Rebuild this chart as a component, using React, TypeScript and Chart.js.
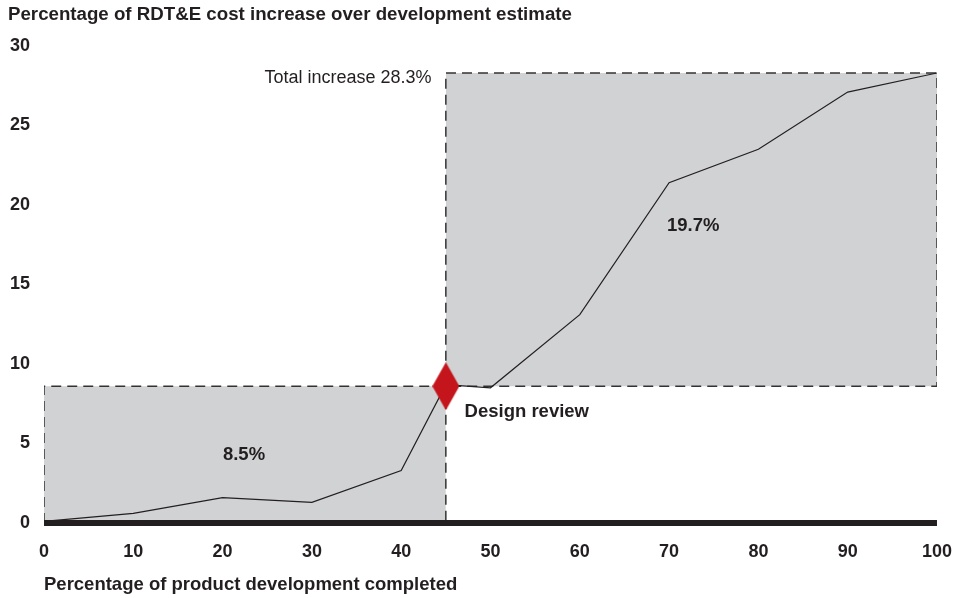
import React, { useEffect, useRef } from "react";
import { Chart, registerables } from "chart.js";

Chart.register(...registerables);

const progress = [0, 10, 20, 30, 40, 45, 50, 60, 70, 80, 90, 100];
const costIncrease = [0.1, 0.6, 1.6, 1.3, 3.3, 8.7, 8.5, 13.1, 21.4, 23.5, 27.1, 28.3];
const designReviewAt = 45;
const designReviewLevel = 8.6;
const totalIncrease = 28.3;
const xTicks = [0, 10, 20, 30, 40, 50, 60, 70, 80, 90, 100];
const yTicks = [0, 5, 10, 15, 20, 25, 30];

const TEXT = "#231f20";
const FONT = "'Liberation Sans', Arial, Helvetica, sans-serif";

function makeDiamond(): HTMLCanvasElement {
  const c = document.createElement("canvas");
  c.width = 27;
  c.height = 48;
  const g = c.getContext("2d")!;
  g.fillStyle = "#c4151c";
  g.beginPath();
  g.moveTo(13.5, 0);
  g.lineTo(27, 24);
  g.lineTo(13.5, 48);
  g.lineTo(0, 24);
  g.closePath();
  g.fill();
  return c;
}

const labelsPlugin = {
  id: "annotLabels",
  afterDatasetsDraw(chart: any) {
    const { ctx, scales } = chart;
    const x = scales.x;
    const y = scales.y;
    ctx.save();
    ctx.fillStyle = TEXT;
    ctx.textBaseline = "middle";
    ctx.font = `18px ${FONT}`;
    ctx.textAlign = "right";
    ctx.fillText(`Total increase ${totalIncrease}%`, x.getPixelForValue(43.4), y.getPixelForValue(28.0));
    ctx.font = `bold 18.5px ${FONT}`;
    ctx.textAlign = "center";
    const upper = (totalIncrease - designReviewLevel).toFixed(1);
    const lower = (designReviewLevel - 0.1).toFixed(1);
    ctx.fillText(`${upper}%`, x.getPixelForValue(72.7), y.getPixelForValue(18.7));
    ctx.fillText(`${lower}%`, x.getPixelForValue(22.4), y.getPixelForValue(4.3));
    ctx.textAlign = "left";
    ctx.fillText("Design review", x.getPixelForValue(47.1), y.getPixelForValue(7.0));
    ctx.restore();
  },
};

export default function App() {
  const ref = useRef<HTMLCanvasElement | null>(null);
  useEffect(() => {
    if (!ref.current) return;
    const diamond = makeDiamond();
    const chart = new Chart(ref.current, {
      type: "line",
      data: {
        datasets: [
          {
            label: "review",
            data: [{ x: designReviewAt, y: designReviewLevel }],
            pointStyle: diamond as any,
            pointRadius: 12,
            showLine: false,
            order: 0,
          },
          {
            label: "cost",
            data: progress.map((p, i) => ({ x: p, y: costIncrease[i] })),
            borderColor: "#231f20",
            borderWidth: 1.2,
            pointRadius: 0,
            fill: false,
            tension: 0,
            order: 1,
          },
          {
            label: "baseline",
            data: [
              { x: 0, y: 0 },
              { x: 100, y: 0 },
            ],
            borderColor: "#231f20",
            borderWidth: 6,
            borderCapStyle: "butt",
            pointRadius: 0,
            fill: false,
            clip: false as any,
            order: 2,
          },
          {
            label: "dashes",
            data: [
              { x: 0, y: 0 },
              { x: 0, y: designReviewLevel },
              { x: 100, y: designReviewLevel },
              { x: 100, y: totalIncrease },
              { x: designReviewAt, y: totalIncrease },
              { x: designReviewAt, y: 0 },
            ],
            borderColor: "#333333",
            borderWidth: 1.5,
            borderDash: [10, 6],
            pointRadius: 0,
            fill: false,
            tension: 0,
            order: 3,
          },
          {
            label: "box1",
            data: [
              { x: 0, y: designReviewLevel },
              { x: designReviewAt, y: designReviewLevel },
            ],
            borderWidth: 0,
            borderColor: "rgba(0,0,0,0)",
            backgroundColor: "#d1d2d4",
            pointRadius: 0,
            fill: "origin",
            order: 4,
          },
          {
            label: "box2",
            data: [
              { x: designReviewAt, y: totalIncrease },
              { x: 100, y: totalIncrease },
            ],
            borderWidth: 0,
            borderColor: "rgba(0,0,0,0)",
            backgroundColor: "#d1d2d4",
            pointRadius: 0,
            fill: { value: designReviewLevel },
            order: 4,
          },
        ],
      },
      options: {
        animation: false,
        responsive: true,
        maintainAspectRatio: false,
        layout: { padding: { left: 8, right: 33, top: 0, bottom: 0 } },
        plugins: {
          legend: { display: false },
          tooltip: { enabled: false },
          title: {
            display: true,
            text: "Percentage of RDT&E cost increase over development estimate",
            align: "start",
            color: TEXT,
            font: { family: FONT, size: 18.7, weight: "bold" },
            padding: { top: 4, bottom: 19.5 },
          },
        },
        scales: {
          x: {
            type: "linear",
            min: 0,
            max: 100,
            afterBuildTicks: (s: any) => {
              s.ticks = xTicks.map((v) => ({ value: v }));
            },
            afterFit: (s: any) => {
              s.height = 75;
            },
            grid: { display: false, drawTicks: false },
            border: { display: false },
            ticks: {
              color: TEXT,
              padding: 18,
              font: { family: FONT, size: 18, weight: "bold" },
            },
            title: {
              display: true,
              text: "Percentage of product development completed",
              align: "start",
              color: TEXT,
              font: { family: FONT, size: 18.5, weight: "bold" },
              padding: { top: 0, bottom: 2 },
            },
          },
          y: {
            type: "linear",
            min: 0,
            max: 30,
            afterBuildTicks: (s: any) => {
              s.ticks = yTicks.map((v) => ({ value: v }));
            },
            afterFit: (s: any) => {
              s.width = 36;
            },
            grid: { display: false, drawTicks: false },
            border: { display: false },
            ticks: {
              color: TEXT,
              padding: 14,
              font: { family: FONT, size: 18, weight: "bold" },
            },
          },
        },
      },
      plugins: [labelsPlugin],
    });
    return () => chart.destroy();
  }, []);
  return (
    <div style={{ position: "absolute", left: 0, top: 0, width: 970, height: 598 }}>
      <canvas ref={ref} />
    </div>
  );
}
